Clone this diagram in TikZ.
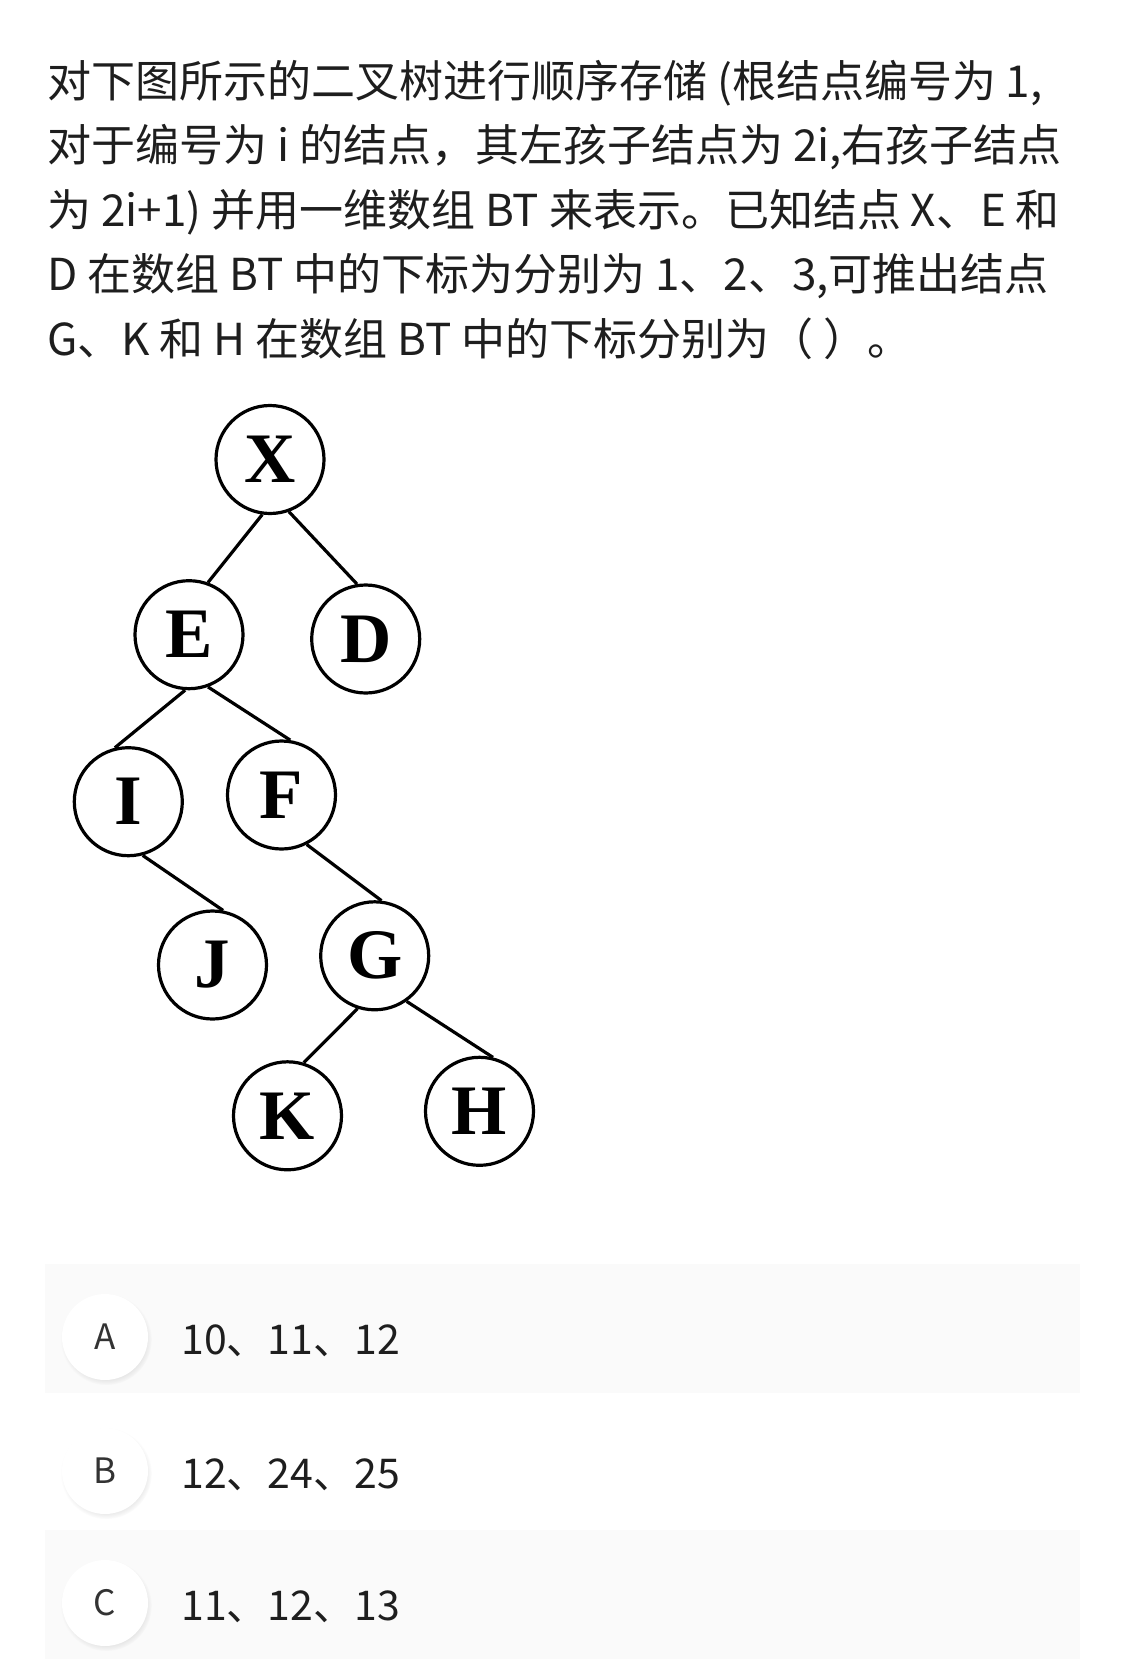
\documentclass[tikz,border=0pt]{standalone}
\usepackage{fontspec}
\setmainfont{Noto Sans CJK SC}
\newfontfamily\treefont{Liberation Serif}
\usetikzlibrary{calc,positioning,shadows}
\definecolor{txt}{HTML}{1E1E1E}
\definecolor{opt}{HTML}{333333}
\definecolor{panel}{HTML}{FAFAFA}
\tikzset{
  tnode/.style={draw,circle,line width=1.6pt,minimum size=54pt,inner sep=0pt,
    font=\treefont\bfseries\fontsize{35.5pt}{35.5pt}\selectfont},
  tedge/.style={line width=1.6pt},
  qline/.style={anchor=base west,inner sep=0pt,text=txt,
    font=\fontsize{22pt}{26pt}\selectfont},
  optc/.style={circle,fill=white,minimum size=43pt,inner sep=0pt,text=opt,
    font=\fontsize{17.5pt}{17.5pt}\selectfont,
    circular drop shadow={shadow scale=1.06,shadow xshift=0.6pt,shadow yshift=-1.2pt,opacity=0.18}},
  otext/.style={anchor=base west,inner sep=0pt,text=txt,
    font=\fontsize{20.5pt}{20.5pt}\selectfont}
}
\begin{document}
\begin{tikzpicture}[x=0.5pt,y=-0.5pt]
\useasboundingbox (0,0) rectangle (1125,1665);
\fill[white] (0,0) rectangle (1125,1665);
% question text
\node[qline] (q1) at (47,97) {对下图所示的二叉树进行顺序存储 (根结点编号为 1,};
\node[qline] (q2) at (47,161.5) {对于编号为 i 的结点，其左孩子结点为 2i,右孩子结点};
\node[qline] (q3) at (47,226) {为 2i+1) 并用一维数组 BT 来表示。已知结点 X、E 和};
\node[qline] (q4) at (47,290.5) {D 在数组 BT 中的下标为分别为 1、2、3,可推出结点};
\node[qline] (q5) at (47,355) {G、K 和 H 在数组 BT 中的下标分别为（ ）。};
% the tree
\foreach \n/\x/\y in {X/270/459.5,E/189/634.7,D/365.7/639,I/128.3/801.7,F/281.5/795,
  J/212.5/965,G/374.7/955.8,K/287.5/1115.8,H/479.5/1111.3}
  \node[tnode] (\n) at (\x,\y) {\n};
\foreach \a/\b/\p/\q in {X/E/262/70,X/D/290/99,E/I/266/104,E/F/290/81,
  I/J/285/79,F/G/297/83,G/K/252/73,G/H/305/76}
  \draw[tedge] (\a.\p)--(\b.\q);
% choices
\foreach \l/\y/\t/\c in {A/1337/10、11、12/panel,B/1471/12、24、25/white,C/1603/11、12、13/panel}
{\fill[\c] (45,\y-73) rectangle (1080,\y+56);
 \node[optc] (o\l) at (105,\y) {\l};
 \node[otext] (t\l) at (181,\y+17) {\t};}
\end{tikzpicture}
\end{document}
